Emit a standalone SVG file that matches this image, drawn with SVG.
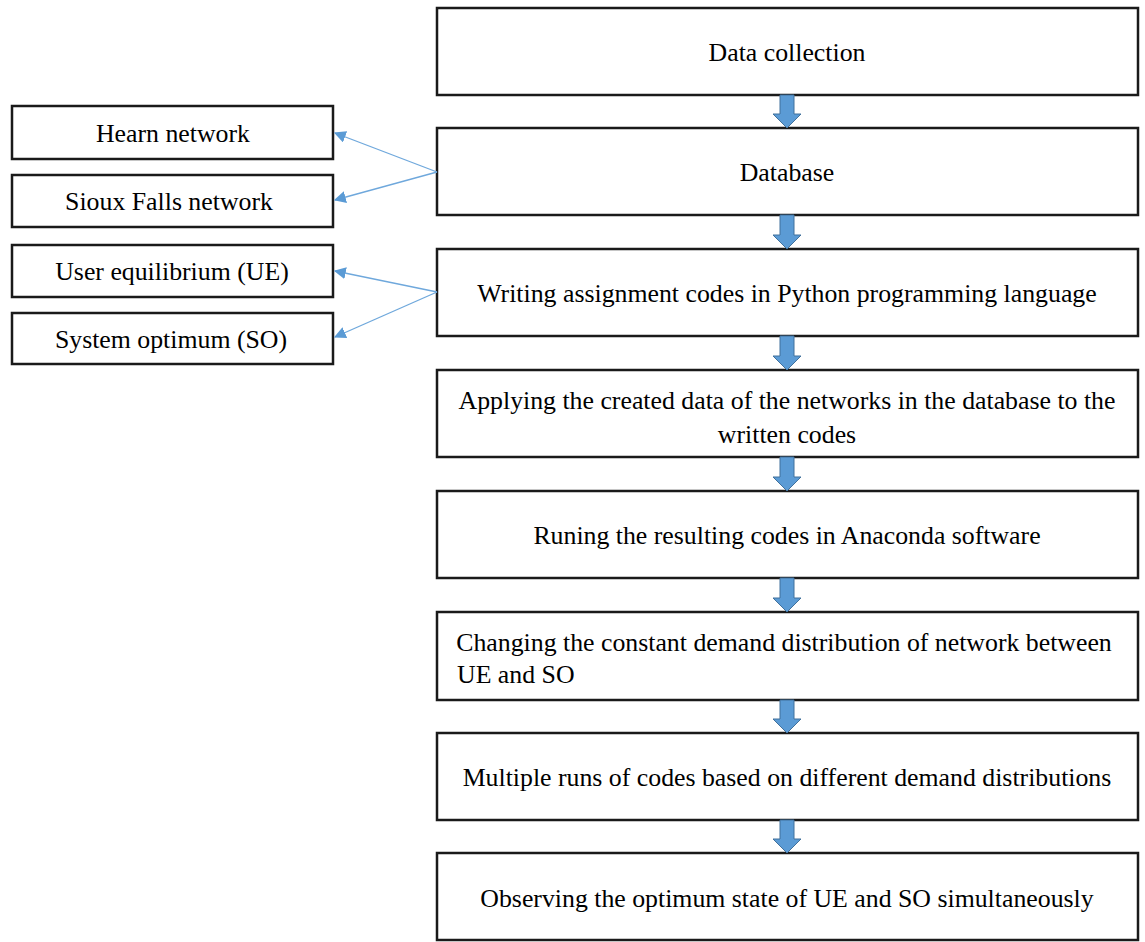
<svg xmlns="http://www.w3.org/2000/svg" width="1145" height="942" viewBox="0 0 1145 942">
<defs>
<style>
.box{fill:#fff;stroke:#1a1a1a;stroke-width:2.5}
.t{font-family:"Liberation Serif","Times New Roman",serif;font-size:25.8px;fill:#000;text-anchor:middle}
.ts{font-family:"Liberation Serif","Times New Roman",serif;font-size:25.8px;fill:#000;text-anchor:start}
.blk{fill:#5B9BD5;stroke:#41719C;stroke-width:1}
.ln{stroke:#6FA8DC;stroke-width:1.3;fill:none;marker-end:url(#ah)}
</style>
<marker id="ah" viewBox="0 0 10 10" refX="9" refY="5" markerWidth="12" markerHeight="12" markerUnits="userSpaceOnUse" orient="auto">
<path d="M0,0 L10,5 L0,10 z" fill="#5B9BD5"/>
</marker>
</defs>
<rect width="1145" height="942" fill="#fff"/>
<g id="n1"><rect class="box" x="437" y="8" width="701" height="87"/><text class="t" x="787" y="61">Data collection</text></g>
<g id="n2"><rect class="box" x="437" y="128" width="701" height="87"/><text class="t" x="787" y="181">Database</text></g>
<g id="n3"><rect class="box" x="437" y="249" width="701" height="87"/><text class="t" x="787" y="302">Writing assignment codes in Python programming language</text></g>
<g id="n4"><rect class="box" x="437" y="370" width="701" height="87"/><text class="t" x="787" y="409">Applying the created data of the networks in the database to the</text><text class="t" x="787" y="443">written codes</text></g>
<g id="n5"><rect class="box" x="437" y="491" width="701" height="87"/><text class="t" x="787" y="544">Runing the resulting codes in Anaconda software</text></g>
<g id="n6"><rect class="box" x="437" y="612" width="701" height="88"/><text class="t" x="784" y="651">Changing the constant demand distribution of network between</text><text class="ts" x="457" y="683">UE and SO</text></g>
<g id="n7"><rect class="box" x="437" y="733" width="701" height="87"/><text class="t" x="787" y="786">Multiple runs of codes based on different demand distributions</text></g>
<g id="n8"><rect class="box" x="437" y="853" width="701" height="87"/><text class="t" x="787" y="907">Observing the optimum state of UE and SO simultaneously</text></g>
<g id="l1"><rect class="box" x="12" y="106" width="321" height="53"/><text class="t" x="173" y="142">Hearn network</text></g>
<g id="l2"><rect class="box" x="12" y="175" width="321" height="52"/><text class="t" x="169" y="210">Sioux Falls network</text></g>
<g id="l3"><rect class="box" x="12" y="245" width="321" height="52"/><text class="t" x="172" y="280">User equilibrium (UE)</text></g>
<g id="l4"><rect class="box" x="12" y="313" width="321" height="51"/><text class="t" x="171" y="348">System optimum (SO)</text></g>
<g id="connectors">
<path class="blk" d="M780,95 H794 V114 H801 L787,128 L773,114 H780 Z"/>
<path class="blk" d="M780,215 H794 V235 H801 L787,249 L773,235 H780 Z"/>
<path class="blk" d="M780,336 H794 V356 H801 L787,370 L773,356 H780 Z"/>
<path class="blk" d="M780,457 H794 V477 H801 L787,491 L773,477 H780 Z"/>
<path class="blk" d="M780,578 H794 V598 H801 L787,612 L773,598 H780 Z"/>
<path class="blk" d="M780,700 H794 V719 H801 L787,733 L773,719 H780 Z"/>
<path class="blk" d="M780,820 H794 V839 H801 L787,853 L773,839 H780 Z"/>
<line class="ln" x1="437" y1="172" x2="335" y2="133"/>
<line class="ln" x1="437" y1="172" x2="335" y2="200"/>
<line class="ln" x1="437" y1="292" x2="335" y2="271"/>
<line class="ln" x1="437" y1="292" x2="335" y2="337"/>
</g>
</svg>
